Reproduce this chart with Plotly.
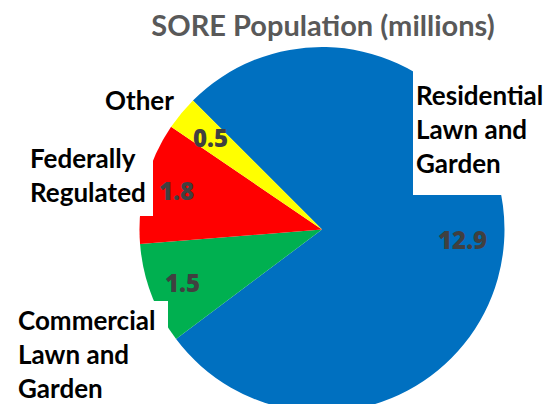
import numpy as np
import plotly.graph_objects as go

# ---- data ----
categories = ["Residential Lawn and Garden", "Commercial Lawn and Garden",
              "Federally Regulated", "Other"]
values = [12.9, 1.5, 1.8, 0.5]
colors = ["#0070C0", "#00B050", "#FF0000", "#FFFF00"]
title_text = "SORE Population (millions)"

# figure is slightly taller than the window so the pie bottom is clipped,
# as in the original picture
W, H = 553, 412
FONT = "Lato"
ROT = 315  # start angle, clockwise from 12 o'clock

# pie geometry (pixels)
cx, cy, R = 322.0, 229.5, 182.5

def px(x):
    return x / W

def py(y):
    return 1 - y / H

fig = go.Figure()
fig.add_trace(go.Pie(
    labels=categories,
    values=values,
    marker=dict(colors=colors, line=dict(width=0)),
    sort=False,
    direction="clockwise",
    rotation=ROT,
    textinfo="none",
    hoverinfo="label+value",
    showlegend=False,
    domain=dict(x=[px(cx - R), px(cx + R)], y=[py(cy + R), py(cy - R)]),
))

# value labels placed along each slice's mid angle (computed from data)
vals = np.array(values, dtype=float)
cum = np.concatenate([[0], np.cumsum(vals)])
mids = ROT + 360 * (cum[:-1] + cum[1:]) / 2 / vals.sum()
rfrac = [0.77, 0.82, 0.825, 0.79]
annotations = []
for v, a, rf in zip(values, mids, rfrac):
    t = np.deg2rad(a)
    x = cx + np.sin(t) * R * rf
    y = cy - np.cos(t) * R * rf
    annotations.append(dict(
        x=px(x), y=py(y), xref="paper", yref="paper", text=f"{v}",
        showarrow=False, xanchor="center", yanchor="middle",
        font=dict(family="Open Sans", size=24, color="#404040", weight=800)))

# white label boxes overlapping the pie (as in the original)
shapes = [
    dict(type="rect", xref="paper", yref="paper", layer="above",
         x0=px(413), x1=1, y0=py(195), y1=py(60),
         fillcolor="white", line=dict(width=0)),
    dict(type="rect", xref="paper", yref="paper", layer="above",
         x0=0, x1=px(153), y0=py(216), y1=py(125),
         fillcolor="white", line=dict(width=0)),
    dict(type="rect", xref="paper", yref="paper", layer="above",
         x0=0, x1=px(168), y0=0, y1=py(301),
         fillcolor="white", line=dict(width=0)),
]

lab_font = dict(family=FONT, size=26, color="black", weight="bold")
annotations += [
    dict(x=px(414), y=py(129), xref="paper", yref="paper",
         text="Residential<br>Lawn and<br>Garden", align="left",
         xanchor="left", yanchor="middle", showarrow=False, font=lab_font),
    dict(x=px(176), y=py(100), xref="paper", yref="paper",
         text="Other", align="right",
         xanchor="right", yanchor="middle", showarrow=False, font=lab_font),
    dict(x=px(28), y=py(175), xref="paper", yref="paper",
         text="Federally<br>Regulated", align="left",
         xanchor="left", yanchor="middle", showarrow=False, font=lab_font),
    dict(x=px(16), y=py(354), xref="paper", yref="paper",
         text="Commercial<br>Lawn and<br>Garden", align="left",
         xanchor="left", yanchor="middle", showarrow=False, font=lab_font),
]

fig.update_layout(
    width=W, height=H,
    margin=dict(l=0, r=0, t=0, b=0),
    paper_bgcolor="white", plot_bgcolor="white",
    title=dict(text=title_text, x=px(323), xanchor="center",
               y=py(26), yanchor="middle",
               font=dict(family=FONT, size=29, color="#595959", weight="bold")),
    shapes=shapes,
    annotations=annotations,
)

fig.write_html(
    "out.html",
    config={"displayModeBar": False},
    post_script="document.body.style.margin='0px';"
                "document.body.style.overflow='hidden';"
                "document.documentElement.style.overflow='hidden';",
)
